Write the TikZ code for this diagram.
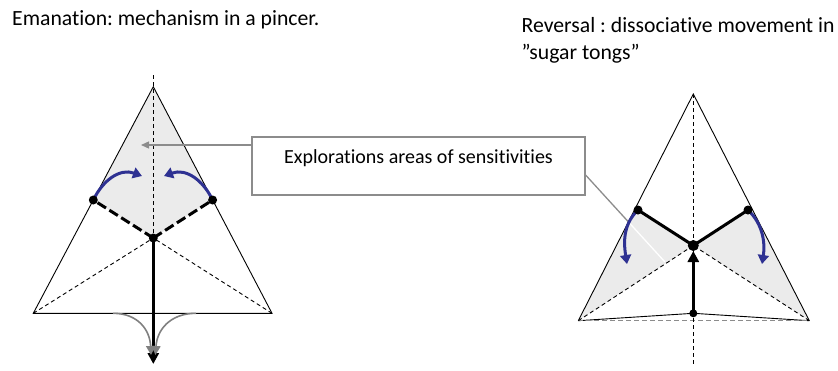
\documentclass[tikz,border=0pt]{standalone}
\usepackage{fontspec}
\setmainfont[Ligatures={NoCommon}]{Carlito}
\frenchspacing
\usetikzlibrary{arrows.meta,calc}
\definecolor{arcblue}{RGB}{46,49,146}
\definecolor{shadegray}{RGB}{235,235,235}
\definecolor{callgray}{RGB}{140,140,140}
\definecolor{curvegray}{RGB}{128,128,128}
\begin{document}
\begin{tikzpicture}[x=1pt,y=-1pt,
  edge/.style={line width=0.9pt,black},
  thindash/.style={line width=0.9pt,black,dash pattern=on 4pt off 3pt},
  thickdash/.style={line width=3pt,black,dash pattern=on 10pt off 4pt},
  thickline/.style={line width=3pt,black},
  bluearc/.style={line width=3pt,arcblue,-{Triangle[length=9pt,width=11pt]}},
  graycurve/.style={line width=1.6pt,curvegray,-{Triangle[length=9pt,width=9pt]}},
  callout/.style={line width=1.3pt,callgray},
  dotnode/.style={circle,fill=black,inner sep=0pt,minimum size=#1},
  txt/.style={font=\fontsize{21.7}{27.5}\selectfont,inner sep=0pt}
]
\useasboundingbox (0,0) rectangle (838,370);

% titles
\node[txt,anchor=base west] (t1) at (12,25) {Emanation: mechanism in a pincer.};
\node[txt,anchor=base west,align=left] (t2) at (521.5,59.5) {Reversal : dissociative movement in\\”sugar tongs”};

% ---------------- left triangle ----------------
\coordinate (LA) at (153.3,86.7);
\coordinate (LB) at (33.3,313.3);
\coordinate (LC) at (272,313.3);
\coordinate (LG) at (153.3,238);
\coordinate (LML) at (93.3,200);
\coordinate (LMR) at (212.6,200);
\coordinate (LTop) at (153.3,75);
\coordinate (LTip) at (153.3,364);
\coordinate (LGa) at (113,313.3);
\coordinate (LGb) at (196,313.3);
\coordinate (LGe1) at (151,355);
\coordinate (LGe2) at (155.5,355);
\coordinate (LArr) at (141,145);

\fill[shadegray] (LA) -- (LMR) -- (LG) -- (LML) -- cycle;
\draw[edge] (LA) -- (LB) -- (LC) -- cycle;
\draw[thindash] (LB) -- (LG);
\draw[thindash] (LC) -- (LG);
\draw[thindash] (LTop) -- (LG);
\draw[thickdash] (LG) -- (LML);
\draw[thickdash] (LG) -- (LMR);
\draw[thickline,-{Triangle[length=11pt,width=11pt]}] (LG) -- (LTip);
\draw[graycurve] (LGa) .. controls (138,313.3) and (150,330) .. (LGe1);
\draw[graycurve] (LGb) .. controls (170,313.3) and (157,330) .. (LGe2);
\draw[bluearc] (LML) .. controls (103,180) and (120,168) .. (142,176);
\draw[bluearc] (LMR) .. controls (203,180) and (186,168) .. (164,176);
\node[dotnode=9pt] (dLML) at (LML) {};
\node[dotnode=9pt] (dLMR) at (LMR) {};
\node[dotnode=9pt] (dLG) at (LG) {};

% ---------------- callout box ----------------
\node[draw=callgray,line width=1.2pt,minimum width=333pt,minimum height=58pt,inner sep=0pt,fill=white,
      font=\fontsize{20}{27}\selectfont] (box) at (418.5,166)
  {\raisebox{3pt}[0pt][0pt]{Explorations areas of sensitivities}};
\coordinate (BoxL) at ([yshift=21pt]box.west);
\coordinate (BoxR) at ([yshift=-9pt]box.east);
\draw[callout,-{Triangle[length=8pt,width=7pt]}] (BoxL) -- (LArr);

% ---------------- right triangle ----------------
\coordinate (RA) at (693.3,94);
\coordinate (RB) at (578.3,320.7);
\coordinate (RC) at (809.3,320.7);
\coordinate (RG) at (693.3,245.5);
\coordinate (RP) at (693.3,313.3);
\coordinate (RML) at (635.8,207.4);
\coordinate (RMR) at (750.8,207.4);
\coordinate (RDL) at (638,210);
\coordinate (RDR) at (748,210);
\coordinate (RBot) at (693.3,366);
\coordinate (RArr) at (693.3,251);
\coordinate (RW) at (665,262);
\coordinate (RE) at (intersection cs:first line={(BoxR)--(RW)}, second line={(RA)--(RB)});

\fill[shadegray] (RB) -- (RML) -- (RDL) -- (RG) -- cycle;
\fill[shadegray] (RC) -- (RMR) -- (RDR) -- (RG) -- cycle;
\draw[callout] (BoxR) -- (RE);
\draw[line width=1.3pt,white] (RE) -- (RW);
\draw[edge] (RB) -- (RA) -- (RC);
\draw[edge] (RB) -- (RP) -- (RC);
\draw[line width=0.9pt,callgray,dash pattern=on 5pt off 3pt] (RB) -- (RC);
\draw[thindash] (RB) -- (RG);
\draw[thindash] (RC) -- (RG);
\draw[thindash] (RA) -- (RBot);
\draw[thickline] (RDL) -- (RG) -- (RDR);
\draw[thickline,-{Triangle[length=11pt,width=11pt]}] (RP) -- (RArr);
\draw[bluearc] (RDL) .. controls (622,225) and (624,245) .. (627,264);
\draw[bluearc] (RDR) .. controls (764,225) and (765,245) .. (762,264);
\node[dotnode=9pt] (dRDL) at (RDL) {};
\node[dotnode=9pt] (dRDR) at (RDR) {};
\node[dotnode=11pt] (dRG) at (RG) {};
\node[dotnode=8pt] (dRP) at (RP) {};
\end{tikzpicture}
\end{document}
